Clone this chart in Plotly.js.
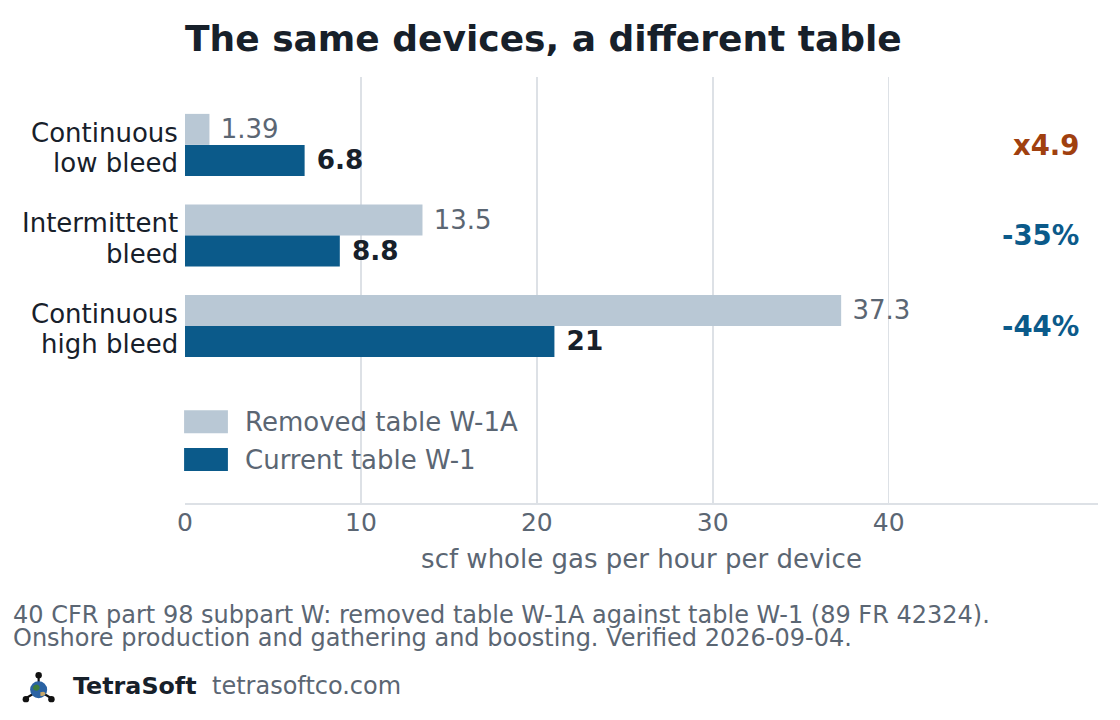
<!DOCTYPE html>
<html>
<head>
<meta charset="utf-8">
<script src="https://cdn.plot.ly/plotly-3.0.1.min.js"></script>
<style>
  html, body { margin: 0; padding: 0; background: #fff; }
  #chart { width: 1120px; height: 720px; }
</style>
</head>
<body>
<div id="chart"></div>
<script>
// device types, top to bottom (two-line labels)
const devices = ["Continuous low bleed", "Intermittent bleed", "Continuous high bleed"];
const labelLines = [["Continuous", "low bleed"], ["Intermittent", "bleed"], ["Continuous", "high bleed"]];
// scf whole gas per hour per device
const removedW1A = [1.39, 13.5, 37.3];
const currentW1 = [6.8, 8.8, 21];
const seriesNames = ["Removed table W-1A", "Current table W-1"];

const FONT = "DejaVu Sans, Verdana, sans-serif";
const DARK = "#17202a";
const GREY = "#5b6673";
const LIGHT_BAR = "#b9c8d5";
const DARK_BAR = "#0b5a8a";
const ORANGE = "#a0400f";
const GRID = "#dde1e6";

const nb = "\u00a0";

function changeLabel(oldV, newV) {
    if (newV > oldV) return "x" + (newV / oldV).toFixed(1);
    return Math.round((newV / oldV - 1) * 100) + "%";
}

const traces = [
    {
        type: "bar", orientation: "h",
        name: seriesNames[0],
        y: devices, x: removedW1A,
        marker: {color: LIGHT_BAR},
        text: removedW1A.map(v => nb + v),
        textposition: "outside",
        textfont: {family: FONT, size: 26, color: GREY},
        cliponaxis: false,
        hoverinfo: "skip",
        showlegend: false
    },
    {
        type: "bar", orientation: "h",
        name: seriesNames[1],
        y: devices, x: currentW1,
        marker: {color: DARK_BAR},
        text: currentW1.map(v => nb + v),
        textposition: "outside",
        textfont: {family: FONT, size: 28, color: DARK, weight: "bold"},
        cliponaxis: false,
        hoverinfo: "skip",
        showlegend: false
    }
];

const annotations = [];

// category labels, one annotation per line so the line spacing stays tight
devices.forEach((d, i) => {
    labelLines[i].forEach((line, j) => {
        annotations.push({
            xref: "paper", yref: "y", x: 0, y: d, xshift: -5,
            yshift: j === 0 ? 12 : -18.5,
            xanchor: "right", yanchor: "middle", showarrow: false,
            text: line, font: {family: FONT, size: 26, color: DARK}
        });
    });
});

// change from removed to current table
devices.forEach((d, i) => {
    const up = currentW1[i] > removedW1A[i];
    annotations.push({
        xref: "paper", yref: "y", x: 0.981, y: d,
        xanchor: "right", yanchor: "middle",
        text: "<b>" + changeLabel(removedW1A[i], currentW1[i]) + "</b>",
        showarrow: false,
        font: {family: FONT, size: 27.5, color: up ? ORANGE : DARK_BAR}
    });
});

// hand-drawn legend
const legendY = [0.191, 0.102];
const legendColors = [LIGHT_BAR, DARK_BAR];
const shapes = [];
seriesNames.forEach((n, i) => {
    shapes.push({
        type: "rect", xref: "paper", yref: "paper",
        x0: -0.001, x1: 0.047,
        y0: legendY[i] - 0.027, y1: legendY[i] + 0.027,
        fillcolor: legendColors[i], line: {width: 0}
    });
    annotations.push({
        xref: "paper", yref: "paper", x: 0.063, y: legendY[i],
        xanchor: "left", yanchor: "middle", showarrow: false,
        text: n, font: {family: FONT, size: 26, color: GREY}
    });
});

// footnote and brand
annotations.push(
    {xref: "paper", yref: "paper", x: -0.1906, y: -0.262, xanchor: "left", yanchor: "middle",
     showarrow: false, text: "40 CFR part 98 subpart W: removed table W-1A against table W-1 (89 FR 42324).",
     font: {family: FONT, size: 24, color: GREY}},
    {xref: "paper", yref: "paper", x: -0.1906, y: -0.316, xanchor: "left", yanchor: "middle",
     showarrow: false, text: "Onshore production and gathering and boosting. Verified 2026-09-04.",
     font: {family: FONT, size: 24, color: GREY}},
    {xref: "paper", yref: "paper", x: -0.1248, y: -0.4296, xanchor: "left", yanchor: "middle",
     showarrow: false, text: "<b>TetraSoft</b>",
     font: {family: FONT, size: 23.8, color: DARK}},
    {xref: "paper", yref: "paper", x: 0.0274, y: -0.4296, xanchor: "left", yanchor: "middle",
     showarrow: false, text: "tetrasoftco.com",
     font: {family: FONT, size: 24, color: GREY}}
);

const logoSvg = '<svg xmlns="http://www.w3.org/2000/svg" width="40" height="40" viewBox="0 0 40 40">' +
    '<line x1="20" y1="5" x2="20" y2="20" stroke="#111" stroke-width="2.5"/>' +
    '<line x1="5" y1="32" x2="20" y2="23" stroke="#111" stroke-width="2.5"/>' +
    '<line x1="35" y1="32" x2="20" y2="23" stroke="#111" stroke-width="2.5"/>' +
    '<circle cx="20" cy="22" r="10" fill="#2a62a3"/>' +
    '<path d="M13 19 q3 -5 7 -2 q3 3 -1 6 q-5 1 -6 -4z" fill="#3d7c3b"/>' +
    '<path d="M22 25 q5 -2 6 1 q-1 4 -6 3z" fill="#c9a86a"/>' +
    '<circle cx="20" cy="5" r="3.8" fill="#111"/>' +
    '<circle cx="5" cy="33" r="3.8" fill="#111"/>' +
    '<circle cx="35" cy="33" r="3.8" fill="#111"/>' +
    '</svg>';

const layout = {
    width: 1120, height: 720,
    margin: {l: 185, r: 22, t: 77, b: 217},
    paper_bgcolor: "#fff", plot_bgcolor: "#fff",
    font: {family: FONT, color: DARK},
    title: {
        text: "<b>The same devices, a different table</b>",
        font: {family: FONT, size: 36, color: DARK},
        xref: "container", x: 185 / 1120, xanchor: "left",
        yref: "container", y: 1 - 38 / 720, yanchor: "middle"
    },
    barmode: "group", bargap: 0.315, bargroupgap: 0,
    showlegend: false,
    xaxis: {
        range: [0, 51.9],
        tickvals: [0, 10, 20, 30, 40],
        showgrid: true, gridcolor: GRID, gridwidth: 1.5,
        zeroline: false,
        showline: true, linecolor: GRID, linewidth: 2,
        ticks: "", ticklabelstandoff: -4,
        tickfont: {family: FONT, size: 25, color: GREY},
        title: {text: "scf whole gas per hour per device", standoff: 14,
                font: {family: FONT, size: 26, color: GREY}}
    },
    yaxis: {
        type: "category",
        range: [3.957, -0.75],
        showgrid: false, zeroline: false, showline: false,
        ticks: "", showticklabels: false
    },
    shapes: shapes,
    annotations: annotations,
    images: [{
        source: "data:image/svg+xml;utf8," + encodeURIComponent(logoSvg),
        xref: "paper", yref: "paper",
        x: -0.1793, y: -0.3944, sizex: 0.038, sizey: 0.08,
        xanchor: "left", yanchor: "top", layer: "above"
    }]
};

Plotly.newPlot("chart", traces, layout, {displayModeBar: false, staticPlot: true});
</script>
</body>
</html>
